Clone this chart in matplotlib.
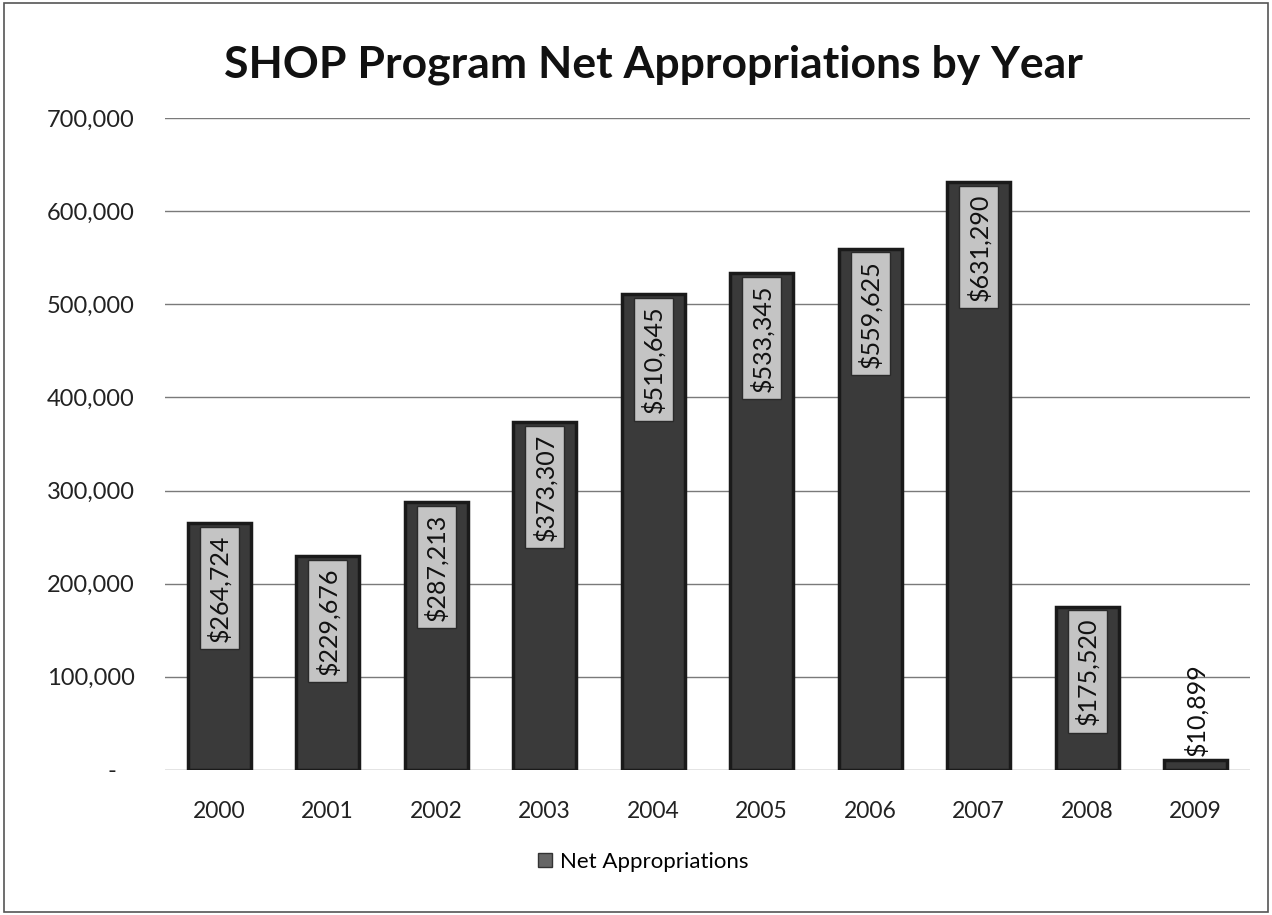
import matplotlib
matplotlib.use("Agg")
import matplotlib.pyplot as plt
from matplotlib.patches import Rectangle, Patch
from matplotlib.ticker import FuncFormatter

years = ["2000", "2001", "2002", "2003", "2004", "2005", "2006", "2007", "2008", "2009"]
net_appropriations = [264724, 229676, 287213, 373307, 510645, 533345, 559625, 631290, 175520, 10899]
y_ticks = [0, 100000, 200000, 300000, 400000, 500000, 600000, 700000]

plt.rcParams['font.family'] = ['Lato', 'DejaVu Sans']

fig = plt.figure(figsize=(12.72, 9.15), dpi=100)
ax = fig.add_axes([0.1297, 0.1585, 0.853, 0.7125])

x = list(range(len(years)))
bars = ax.bar(x, net_appropriations, width=0.58, color='#3a3a3a',
              edgecolor='#1a1a1a', linewidth=2.5, zorder=3)

ax.set_xlim(-0.5, len(years) - 0.5)
ax.set_ylim(0, 700000)
ax.set_yticks(y_ticks)
ax.yaxis.set_major_formatter(FuncFormatter(lambda v, p: "-   " if v == 0 else f"{int(v):,}"))
ax.set_xticks(x)
ax.set_xticklabels(years)
ax.tick_params(axis='y', length=0, labelsize=17, colors='#222222', pad=22)
ax.tick_params(axis='x', length=0, labelsize=16.5, colors='#222222', pad=22)
for s in ax.spines.values():
    s.set_visible(False)
ax.grid(axis='y', color='#7a7a7a', linewidth=1.0, zorder=0)
ax.set_axisbelow(True)

for xi, v in zip(x, net_appropriations):
    label = f"${v:,}"
    if v > 100000:
        ax.annotate(label, xy=(xi, v), xytext=(0, -8), textcoords='offset points',
                    rotation=90, ha='center', va='top', fontsize=18, color='#111111',
                    zorder=5,
                    bbox=dict(boxstyle='square,pad=0.3', facecolor='#c4c4c4',
                              edgecolor='#2a2a2a', linewidth=1))
    else:
        ax.annotate(label, xy=(xi, v), xytext=(0, 3), textcoords='offset points',
                    rotation=90, ha='center', va='bottom', fontsize=18, color='#111111',
                    zorder=5)

fig.text(0.514, 0.929, "SHOP Program Net Appropriations by Year", ha='center', va='center',
         fontsize=32, fontweight='bold', color='#111111')

fig.legend(handles=[Patch(facecolor='#666666', edgecolor='#333333', label='Net Appropriations')],
           loc='center', bbox_to_anchor=(0.506, 0.058), bbox_transform=fig.transFigure,
           frameon=False, fontsize=16, handlelength=0.6, handleheight=0.6, handletextpad=0.4)

fig.patches.append(Rectangle((0.003, 0.003), 0.994, 0.994, transform=fig.transFigure,
                             fill=False, edgecolor='#555555', linewidth=1.2))

fig.savefig("out.png", dpi=100)
